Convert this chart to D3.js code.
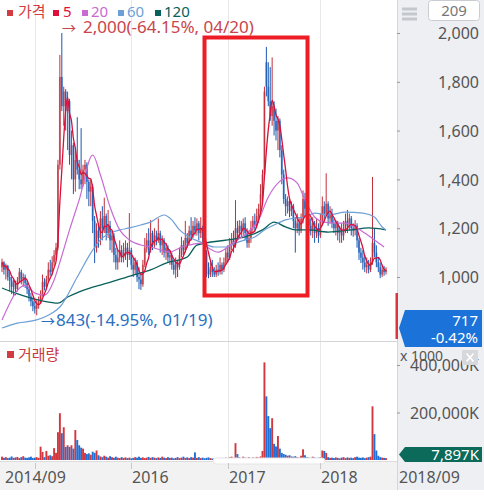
<!DOCTYPE html>
<html><head><meta charset="utf-8">
<script src="https://cdn.jsdelivr.net/npm/d3@7/dist/d3.min.js"></script>
<style>html,body{margin:0;padding:0;background:#fff;}svg{display:block;font-family:"Noto Sans","Noto Sans CJK KR",sans-serif;}</style>
</head><body><svg id="c" width="484" height="502"></svg>
<script>
// ---------- DATA ----------
const opens = [1040,1060,1030,1045,1000,985,960,975,950,985,1020,990,1000,975,950,920,900,880,870,885,
900,930,980,960,990,1030,1020,1060,1090,1120,1460,1820,1700,1760,1680,1720,1500,1540,1400,1480,
1440,1400,1380,1440,1460,1390,1350,1370,1230,1120,1190,1160,1240,1200,1250,1180,1210,1150,1170,1090,
1060,1080,1110,1080,1100,1120,1090,1110,1050,1030,1060,1000,990,970,1050,1120,1150,1110,1180,1130,
1170,1150,1180,1130,1150,1100,1120,1080,1090,1050,1030,1060,1040,1090,1130,1110,1160,1140,1190,1170,
1210,1190,1220,1180,1200,1160,1100,1030,1010,1040,1020,1010,1030,1020,1050,1030,1060,1100,1080,1130,
1150,1130,1200,1180,1210,1190,1220,1180,1140,1160,1200,1230,1210,1250,1280,1340,1420,1880,1780,1720,
1660,1700,1640,1600,1640,1520,1420,1320,1290,1310,1270,1290,1230,1200,1220,1190,1240,1320,1280,1240,
1210,1190,1220,1180,1200,1170,1230,1290,1260,1300,1240,1260,1220,1200,1220,1180,1190,1170,1200,1230,
1210,1240,1200,1190,1210,1150,1100,1080,1060,1040,1050,1030,1060,1140,1100,1060,1040,1010,1030,1020];
const closes = [1060,1030,1045,1000,985,960,975,950,985,1020,990,1000,975,950,920,900,880,870,885,900,
930,980,960,990,1030,1020,1060,1090,1120,1460,1820,1700,1760,1680,1720,1500,1540,1400,1480,1440,
1400,1380,1440,1460,1390,1350,1370,1230,1120,1190,1160,1240,1200,1250,1180,1210,1150,1170,1090,1060,
1080,1110,1080,1100,1120,1090,1110,1050,1030,1060,1000,990,970,1050,1120,1150,1110,1180,1130,1170,
1150,1180,1130,1150,1100,1120,1080,1090,1050,1030,1060,1040,1090,1130,1110,1160,1140,1190,1170,1210,
1190,1220,1180,1200,1160,1100,1030,1010,1040,1020,1010,1030,1020,1050,1030,1060,1100,1080,1130,1150,
1130,1200,1180,1210,1190,1220,1180,1140,1160,1200,1230,1210,1250,1280,1340,1420,1760,1780,1720,1660,
1700,1640,1600,1640,1520,1420,1320,1290,1310,1270,1290,1230,1200,1220,1190,1240,1320,1280,1240,1210,
1190,1220,1180,1200,1170,1230,1290,1260,1300,1240,1260,1220,1200,1220,1180,1190,1170,1200,1230,1210,
1240,1200,1190,1210,1150,1100,1080,1060,1040,1050,1030,1060,1140,1100,1060,1040,1010,1030,1020,1030];
const highs = [1075,1065,1055,1050,1020,1000,990,985,1000,1037,1030,1015,1010,985,960,935,915,900,905,920,
945,1010,995,1005,1060,1070,1085,1110,1140,1480,1910,2000,1780,1770,1760,1730,1600,1550,1520,1655,
1480,1610,1460,1480,1470,1400,1400,1380,1250,1220,1220,1270,1290,1325,1260,1275,1230,1190,1180,1120,
1110,1150,1130,1140,1150,1140,1262,1120,1080,1080,1070,1040,1020,1070,1160,1180,1200,1233,1190,1200,
1190,1240,1190,1170,1160,1140,1130,1110,1100,1070,1080,1070,1120,1165,1150,1230,1180,1210,1245,1230,
1245,1240,1230,1245,1210,1170,1110,1060,1060,1070,1040,1050,1060,1080,1060,1080,1120,1130,1160,1180,
1190,1315,1230,1233,1230,1240,1245,1200,1190,1230,1250,1260,1280,1300,1380,1440,1780,1943,1880,1860,
1900,1720,1690,1660,1650,1540,1440,1340,1330,1320,1310,1300,1245,1260,1240,1260,1355,1345,1300,1260,
1240,1245,1230,1240,1220,1260,1330,1310,1425,1310,1290,1280,1240,1233,1230,1210,1220,1230,1260,1275,
1260,1250,1220,1233,1220,1160,1120,1110,1090,1080,1070,1080,1410,1200,1130,1080,1060,1050,1045,1040];
const lows = [1020,1010,990,985,940,930,920,925,940,975,970,960,955,930,900,880,860,850,843,870,
890,920,945,950,980,1005,1010,1045,1070,1110,1440,1680,1620,1600,1520,1460,1400,1340,1350,1420,
1360,1360,1370,1380,1320,1290,1290,1180,1057,1100,1120,1130,1150,1180,1150,1160,1110,1100,1060,1030,
1030,1060,1060,1060,1070,1040,1070,1030,1000,1010,980,950,947,960,1040,1100,1090,1100,1110,1120,
1130,1140,1100,1090,1080,1070,1060,1050,1030,1010,995,1000,1030,1080,1090,1100,1120,1130,1150,1160,
1170,1170,1150,1160,1140,1060,1000,995,1000,1000,1000,1000,1005,1010,1010,1020,1050,1060,1070,1110,
1100,1120,1150,1160,1160,1170,1150,1120,1120,1140,1180,1190,1200,1220,1260,1300,1400,1740,1700,1640,
1620,1580,1560,1520,1490,1380,1300,1250,1260,1245,1250,1200,1100,1180,1170,1180,1220,1250,1200,1180,
1170,1160,1140,1160,1140,1160,1210,1230,1250,1210,1220,1200,1180,1170,1150,1140,1140,1150,1180,1180,
1190,1170,1165,1170,1120,1070,1057,1030,1020,1015,1015,1020,1050,1080,1040,1020,995,1000,1005,1010];
// volume in millions (x1000 K)
const volumes = [14,9,12,8,10,15,9,11,13,8,12,16,10,9,11,14,8,10,12,9,
56,34,12,38,18,20,16,50,30,117,197,113,138,55,62,55,62,48,126,84,
62,52,48,30,25,28,22,35,30,40,20,15,12,18,14,10,16,12,9,14,
10,8,12,9,11,8,10,7,9,12,10,14,9,11,8,10,13,9,12,10,
8,11,9,14,10,8,12,9,10,7,9,12,8,10,14,9,11,8,12,10,
32,9,12,8,10,7,9,11,8,6,7,5,8,6,9,7,10,8,12,14,
9,71,25,12,8,14,10,9,12,8,11,9,13,10,15,38,411,268,185,134,
176,68,57,101,48,30,25,22,18,20,15,14,16,12,10,18,45,20,12,10,
9,14,11,8,10,12,40,38,30,12,9,10,8,11,9,7,10,12,8,11,
9,10,8,12,14,10,9,11,8,10,12,14,226,109,40,18,12,10,9,7.897];
// moving averages: [bar index, price]
const ma20Pts = [[0,824],[12,967],[17,934],[22,926],[27,988],[30,1061],[35,1193],[40,1316],[47,1500],[51,1418],[56,1287],[61,1193],[66,1152],[72,1131],[77,1123],[82,1111],[87,1102],[92,1119],[97,1131],[103,1139],[107,1119],[112,1102],[117,1123],[122,1152],[127,1180],[133,1234],[138,1328],[143,1385],[148,1406],[153,1385],[157,1316],[162,1246],[167,1225],[173,1221],[178,1221],[183,1205],[188,1180],[193,1152],[198,1123]];
const ma60Pts = [[0,791],[8,811],[18,824],[26,852],[30,877],[39,1000],[46,1098],[51,1152],[56,1180],[61,1193],[66,1201],[72,1213],[77,1225],[84,1254],[88,1234],[92,1193],[97,1164],[103,1143],[110,1123],[116,1123],[121,1139],[126,1152],[131,1164],[136,1193],[141,1213],[147,1234],[152,1242],[157,1246],[162,1262],[169,1254],[178,1266],[187,1262],[193,1246],[197,1205],[199,1193]];
const ma120Pts = [[0,955],[7,934],[21,902],[29,893],[34,918],[40,939],[47,959],[51,967],[68,1008],[77,1029],[85,1057],[96,1082],[101,1131],[117,1152],[126,1164],[135,1193],[141,1225],[147,1205],[152,1193],[159,1193],[169,1184],[181,1193],[190,1201],[199,1193]];
const dateTickIdx = [17,67,117,165];
const dateLabels = ["2014/09","2016","2017","2018"];
const priceTicks = [1000,1200,1400,1600,1800,2000];
const volTicks = [200,400];
const legendNames = ["가격","5","20","60","120"];
const legendColors = ["#d23c41","#df0f3c","#c76bd2","#6c9fd6","#07605a"];
const maxNote = "2,000(-64.15%, 04/20)";
const minNote = "843(-14.95%, 01/19)";
const lastPrice = "717", lastChange = "-0.42%", lastVolume = "7,897K";
const barCount = "209", endDate = "2018/09";

// ---------- CHART ----------
const svg = d3.select("#c");
const N = closes.length;
const x = d3.scaleLinear().domain([0, N-1]).range([2, 386]);
const y = d3.scaleLinear().domain([1000, 2000]).range([277, 33]);
const yv = d3.scaleLinear().domain([0, 400]).range([460, 365]);
const AX = 397;

// right panel & bottom band
svg.append("rect").attr("x",AX).attr("y",0).attr("width",484-AX).attr("height",490).attr("fill","#edeff3");
svg.append("rect").attr("x",0).attr("y",462).attr("width",AX).attr("height",28).attr("fill","#f2f2f2");
svg.append("line").attr("x1",AX+0.5).attr("x2",AX+0.5).attr("y1",0).attr("y2",490).attr("stroke","#d3d6db");

// vertical grid
svg.append("g").selectAll("line").data(dateTickIdx).join("line")
  .attr("x1",d=>Math.round(x(d))+0.5).attr("x2",d=>Math.round(x(d))+0.5)
  .attr("y1",0).attr("y2",468).attr("stroke","#e8e8e8");
// panel separators
svg.append("line").attr("x1",0).attr("x2",AX).attr("y1",341.5).attr("y2",341.5).attr("stroke","#d4d4d4");
svg.append("line").attr("x1",0).attr("x2",AX).attr("y1",461.5).attr("y2",461.5).attr("stroke","#dcdcdc");

// candles
const cg = svg.append("g");
const idx = d3.range(N);
const up = i => closes[i] >= opens[i];
cg.selectAll("rect").data(idx).join("rect")
  .attr("x",i=>x(i)-0.95).attr("width",1.9)
  .attr("y",i=>y(Math.max(opens[i],closes[i])))
  .attr("height",i=>Math.max(1,Math.abs(y(opens[i])-y(closes[i]))))
  .attr("fill",i=>up(i)?"#d27880":"#5e93d6");
cg.selectAll("line").data(idx).join("line")
  .attr("x1",i=>x(i)).attr("x2",i=>x(i))
  .attr("y1",i=>y(highs[i])).attr("y2",i=>y(lows[i]))
  .attr("stroke",i=>up(i)?"#c22f3a":"#1a58b0").attr("stroke-width",1);

// moving averages
const ma5 = idx.map(i=>{const s=closes.slice(Math.max(0,i-4),i+1);return d3.mean(s);});
const lineIdx = d3.line().x((d,i)=>x(i)).y(d=>y(d)).curve(d3.curveMonotoneX);
const linePts = d3.line().x(d=>x(d[0])).y(d=>y(d[1])).curve(d3.curveMonotoneX);
svg.append("path").attr("d",linePts(ma120Pts)).attr("fill","none").attr("stroke","#07605a").attr("stroke-width",1.3);
svg.append("path").attr("d",linePts(ma60Pts)).attr("fill","none").attr("stroke","#6c9fd6").attr("stroke-width",1.2);
svg.append("path").attr("d",linePts(ma20Pts)).attr("fill","none").attr("stroke","#c76bd2").attr("stroke-width",1.2);
svg.append("path").attr("d",lineIdx(ma5)).attr("fill","none").attr("stroke","#d8103c").attr("stroke-width",1.3);

// red highlight box
svg.append("rect").attr("x",204.5).attr("y",37.5).attr("width",103).attr("height",258)
  .attr("fill","none").attr("stroke","#ee1c25").attr("stroke-width",4);

// price axis
const pa = svg.append("g").attr("transform",`translate(${AX},0)`)
  .call(d3.axisRight(y).tickValues(priceTicks).tickFormat(d3.format(",")).tickSize(3).tickPadding(0));
pa.select(".domain").remove();
pa.selectAll("line").attr("stroke","#999");
pa.selectAll("text").attr("x",82).attr("text-anchor","end").attr("dy","0.35em")
  .attr("font-size",16).attr("fill","#555").attr("font-family","Noto Sans");

// volume bars
svg.append("g").selectAll("rect").data(idx).join("rect")
  .attr("x",i=>x(i)-0.95).attr("width",1.9)
  .attr("y",i=>yv(volumes[i])).attr("height",i=>yv(0)-yv(volumes[i]))
  .attr("fill",i=>up(i)?"#d3373e":"#1f6fd6");
// volume axis
const va = svg.append("g").attr("transform",`translate(${AX},0)`)
  .call(d3.axisRight(yv).tickValues(volTicks).tickFormat(d=>d3.format(",")(d*1000)+"K").tickSize(3).tickPadding(0));
va.select(".domain").remove();
va.selectAll("line").attr("stroke","#999");
va.selectAll("text").attr("x",82).attr("text-anchor","end").attr("dy","0.35em")
  .attr("font-size",16).attr("fill","#555").attr("font-family","Noto Sans");

// scrollbar pill
svg.append("rect").attr("x",213).attr("y",458).attr("width",112).attr("height",6).attr("rx",3)
  .attr("fill","#fff").attr("stroke","#e4e4e4");

// date axis
svg.append("g").selectAll("line").data(dateTickIdx).join("line")
  .attr("x1",d=>Math.round(x(d))+0.5).attr("x2",d=>Math.round(x(d))+0.5)
  .attr("y1",463).attr("y2",469).attr("stroke","#c8c8c8");
svg.append("g").selectAll("text").data(dateTickIdx).join("text")
  .attr("x",(d,i)=>i===0?5:Math.round(x(d))+1).attr("y",483)
  .attr("font-size",16).attr("fill","#555").text((d,i)=>dateLabels[i]);
svg.append("text").attr("x",399).attr("y",483).attr("font-size",16).attr("fill","#555").text(endDate);

// legend
const lgSq = [7,53,82,118,155], lgTx = [18,63,91,127,164];
const lg = svg.append("g");
lg.selectAll("rect").data(legendNames).join("rect")
  .attr("x",(d,i)=>lgSq[i]).attr("y",10).attr("width",6).attr("height",6).attr("fill",(d,i)=>legendColors[i]);
lg.selectAll("text").data(legendNames).join("text")
  .attr("x",(d,i)=>lgTx[i]).attr("y",17).attr("font-size",15)
  .attr("font-family",(d,i)=>i===0?"Noto Sans CJK KR":"Noto Sans")
  .attr("fill",(d,i)=>legendColors[i]).text(d=>d);

// extreme notes
const t1 = svg.append("text").attr("y",33).attr("font-size",17).attr("fill","#c8454b");
t1.append("tspan").attr("x",62).attr("font-size",14).text("→");
t1.append("tspan").attr("x",83).text(maxNote);
const t2 = svg.append("text").attr("y",326).attr("font-size",17).attr("fill","#2a6fc2");
t2.append("tspan").attr("x",41).attr("font-size",14).text("→");
t2.append("tspan").attr("x",56).text(minNote);

// volume legend
svg.append("rect").attr("x",7).attr("y",351).attr("width",7).attr("height",7).attr("fill","#d23c41");
svg.append("text").attr("x",18).attr("y",360).attr("font-size",15).attr("font-family","Noto Sans CJK KR")
  .attr("fill","#c8393e").text("거래량");

// current price marker
svg.append("rect").attr("x",395.5).attr("y",293).attr("width",2.5).attr("height",46).attr("fill","#d8353d");
// price badge
svg.append("path").attr("d","M399,328 L405,310 L482,310 L482,347 L405,347 Z").attr("fill","#1b72d8");
svg.append("text").attr("x",478).attr("y",326).attr("text-anchor","end").attr("font-size",15).attr("fill","#fff").text(lastPrice);
svg.append("text").attr("x",478).attr("y",343).attr("text-anchor","end").attr("font-size",15).attr("fill","#fff").text(lastChange);
// volume badge
svg.append("path").attr("d","M399,454.5 L405,447 L482,447 L482,462 L405,462 Z").attr("fill","#0b6a5a");
svg.append("text").attr("x",479).attr("y",460).attr("text-anchor","end").attr("font-size",15).attr("fill","#fff").text(lastVolume);
// x1000 and close button
svg.append("text").attr("x",400).attr("y",361).attr("font-size",14).attr("fill","#555").text("x 1000");
svg.append("rect").attr("x",462).attr("y",350).attr("width",16).attr("height",15).attr("rx",1).attr("fill","#d6d8dc");
svg.append("path").attr("d","M466.5,353.5 L473.5,361.5 M473.5,353.5 L466.5,361.5").attr("stroke","#fff").attr("stroke-width",1.6);

// top-right controls
[9,14,19].forEach(yy=>svg.append("rect").attr("x",402).attr("y",yy-1.5).attr("width",15).attr("height",3).attr("fill","#c4c7cc"));
svg.append("rect").attr("x",428.5).attr("y",0.5).attr("width",51).attr("height",20).attr("rx",3)
  .attr("fill","#fff").attr("stroke","#c9ccd1");
svg.append("text").attr("x",454).attr("y",16).attr("text-anchor","middle").attr("font-size",15).attr("fill","#777").text(barCount);
</script></body></html>
